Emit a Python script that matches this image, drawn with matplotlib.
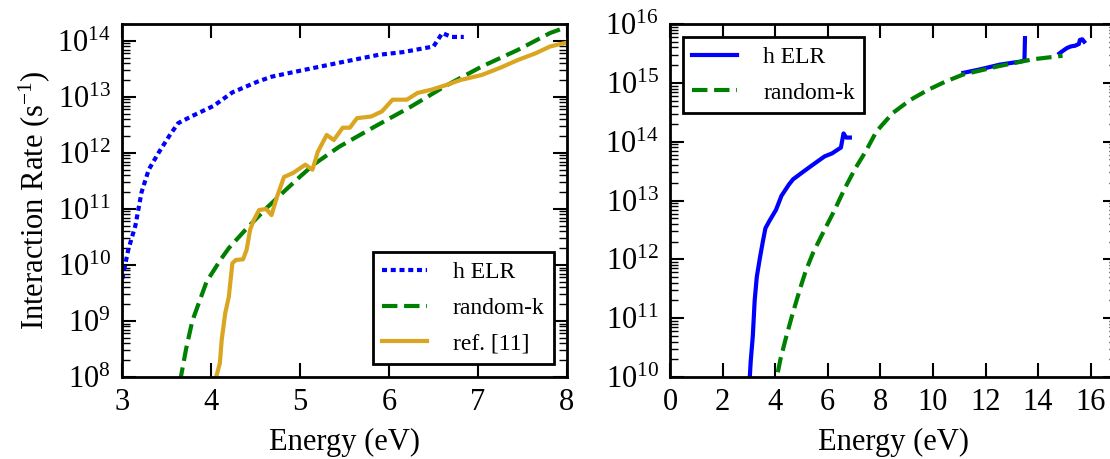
import numpy as np
import matplotlib
matplotlib.use('Agg')
import matplotlib.pyplot as plt
from matplotlib import ticker

plt.rcParams['font.family'] = ['Liberation Serif', 'DejaVu Serif']
plt.rcParams['mathtext.fontset'] = 'custom'
plt.rcParams['mathtext.rm'] = 'Liberation Serif'
plt.rcParams['mathtext.it'] = 'Liberation Serif:italic'
plt.rcParams['axes.linewidth'] = 2

# h ELR (low energy branch) -- energy in eV, log10 of rate in 1/s
helr_E = [2.98, 3.0, 3.07, 3.15, 3.22, 3.30, 3.41, 3.53, 3.63, 3.79, 4.03, 4.24,
          4.52, 4.68, 5.04, 5.44, 5.88, 6.16, 6.50, 6.60, 6.70, 6.84]
helr_logR = [9.6, 9.73, 10.27, 10.7, 11.3, 11.7, 12.0, 12.3, 12.53, 12.66, 12.84, 13.08,
             13.27, 13.36, 13.48, 13.61, 13.75, 13.80, 13.90, 14.14, 14.07, 14.07]

# h ELR, higher energy pieces (right panel only)
helr_mid_E = [11.16, 11.8, 12.55, 13.0, 13.31, 13.48, 13.50]
helr_mid_logR = [15.17, 15.23, 15.31, 15.34, 15.36, 15.38, 15.76]
helr_high_E = [14.81, 14.9, 15.09, 15.25, 15.40, 15.55, 15.59, 15.68, 15.75]
helr_high_logR = [15.50, 15.53, 15.59, 15.62, 15.63, 15.66, 15.73, 15.74, 15.70]

# random-k
rk_E = [3.65, 3.72, 3.79, 3.95, 4.11, 4.20, 4.40, 4.64, 4.84, 5.01, 5.16, 5.44,
        5.84, 6.24, 6.64, 7.04, 7.45, 7.81, 8.0, 8.48, 9.14, 9.81, 10.47,
        11.14, 12.47, 13.80, 14.93]
rk_logR = [7.9, 8.5, 9.0, 9.7, 10.1, 10.3, 10.65, 11.04, 11.34, 11.59, 11.8, 12.11,
           12.47, 12.82, 13.2, 13.54, 13.84, 14.14, 14.25, 14.49, 14.71, 14.88, 15.02,
           15.14, 15.28, 15.40, 15.46]

# ref. [11]
ref_E = [4.05, 4.10, 4.12, 4.16, 4.20, 4.24, 4.28, 4.36, 4.40, 4.44, 4.48, 4.54,
         4.62, 4.68, 4.74, 4.82, 4.92, 5.06, 5.14, 5.20, 5.30, 5.38, 5.48, 5.56,
         5.64, 5.80, 5.92, 6.04, 6.20, 6.32, 6.48, 6.64, 6.80, 7.04, 7.25, 7.45,
         7.65, 7.81, 8.0]
ref_logR = [7.95, 8.25, 8.66, 9.14, 9.43, 10.03, 10.09, 10.1, 10.27, 10.63, 10.8, 10.98,
            11.0, 10.89, 11.21, 11.57, 11.64, 11.79, 11.70, 12.02, 12.32, 12.23, 12.45, 12.45,
            12.62, 12.65, 12.74, 12.95, 12.95, 13.07, 13.13, 13.21, 13.30, 13.39, 13.52, 13.66,
            13.78, 13.90, 13.97]

dotted = (0, (1.2, 0.9))

fig = plt.figure(figsize=(11.1, 4.59), dpi=100)
ax1 = fig.add_axes([122 / 1110, 82 / 459, 445 / 1110, 353 / 459])
ax2 = fig.add_axes([670 / 1110, 82 / 459, 447 / 1110, 353 / 459])

ax1.plot(helr_E, 10 ** np.array(helr_logR), color='b', lw=3, ls=dotted, label='h ELR')
ax1.plot(rk_E, 10 ** np.array(rk_logR), color='g', lw=3, ls='--', label='random-k')
ax1.plot(ref_E, 10 ** np.array(ref_logR), color='goldenrod', lw=3, label='ref. [11]')
ax1.set_yscale('log')
ax1.set_xlim(3, 8)
ax1.set_ylim(1e8, 2e14)
ax1.set_xticks([3, 4, 5, 6, 7, 8])
ax1.set_xlabel('Energy (eV)', fontsize=22, labelpad=8)
ax1.set_ylabel('Interaction Rate (s$^{-1}$)', fontsize=22)

ax2.plot(helr_E, 10 ** np.array(helr_logR), color='b', lw=3, label='h ELR')
ax2.plot(helr_mid_E, 10 ** np.array(helr_mid_logR), color='b', lw=3)
ax2.plot(helr_high_E, 10 ** np.array(helr_high_logR), color='b', lw=3)
ax2.plot(rk_E, 10 ** np.array(rk_logR), color='g', lw=3, ls='--', label='random-k')
ax2.set_yscale('log')
ax2.set_xlim(0, 17)
ax2.set_ylim(1e10, 1e16)
ax2.set_xticks(range(0, 17, 2))
ax2.set_xlabel('Energy (eV)', fontsize=22, labelpad=8)

for ax in (ax1, ax2):
    ax.yaxis.set_major_locator(ticker.LogLocator(base=10, numticks=30))
    ax.yaxis.set_minor_locator(ticker.LogLocator(base=10, subs=np.arange(2, 10), numticks=30))
    ax.yaxis.set_minor_formatter(ticker.NullFormatter())
    ax.tick_params(which='both', direction='in', top=True, right=True, labelsize=22)
    ax.tick_params(which='major', length=10, width=1.5, pad=8)
    ax.tick_params(which='minor', length=6, width=1)
    ax.tick_params(axis='x', which='minor', bottom=False, top=False)

leg_kw = dict(fontsize=17, fancybox=False, framealpha=1, edgecolor='black',
              handlelength=1.9, handletextpad=1.1, labelspacing=0.6, borderaxespad=0.55)
l1 = ax1.legend(loc='lower right', **leg_kw)
l2 = ax2.legend(loc='upper left', **leg_kw)
for l in (l1, l2):
    l.get_frame().set_linewidth(2)

fig.savefig('out.png', dpi=100)
